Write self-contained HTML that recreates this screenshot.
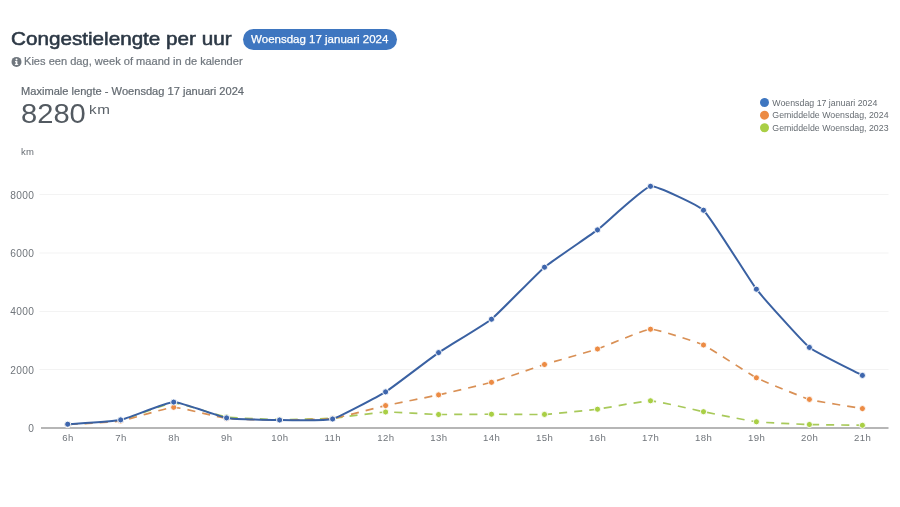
<!DOCTYPE html>
<html lang="nl"><head><meta charset="utf-8"><title>Congestielengte per uur</title>
<style>
html,body{margin:0;padding:0;background:#fff;}
body{width:900px;height:507px;position:relative;overflow:hidden;font-family:"Liberation Sans",sans-serif;}
.t{position:absolute;white-space:nowrap;line-height:1;}
#title{left:11px;top:30.1px;font-size:18.5px;font-weight:normal;color:#2c3845;-webkit-text-stroke:0.55px #2c3845;transform-origin:0 0;transform:scaleX(1.117);}
#pill{left:243px;top:29.2px;width:153.5px;height:20.8px;border-radius:10.5px;background:#3e76c0;color:#fff;font-size:11.5px;text-align:center;line-height:20.6px;-webkit-text-stroke:0.25px #fff;}
#sub{left:24.4px;top:56px;font-size:10.5px;color:#70777e;-webkit-text-stroke:0.2px #70777e;transform-origin:0 0;transform:translateY(0.3px) scaleX(1.055);}
#max{left:21px;top:86px;font-size:10.6px;color:#636a71;-webkit-text-stroke:0.2px #636a71;transform-origin:0 0;transform:translateY(0.4px) scaleX(1.047);}
#big{left:21.1px;top:100px;font-size:28px;color:#535a61;transform-origin:0 0;transform:scaleX(1.04);}
#kmsup{left:89.2px;top:103px;font-size:13px;color:#5a6168;letter-spacing:0.5px;transform-origin:0 0;transform:scaleX(1.17);}
#km{left:21px;top:147px;font-size:9.5px;color:#666c72;letter-spacing:0.3px;}
</style></head><body>
<svg width="900" height="507" viewBox="0 0 900 507" style="position:absolute;left:0;top:0"><line x1="39.5" x2="888.5" y1="194.5" y2="194.5" stroke="#f3f3f3" stroke-width="1"/><line x1="39.5" x2="888.5" y1="253" y2="253" stroke="#f3f3f3" stroke-width="1"/><line x1="39.5" x2="888.5" y1="311.5" y2="311.5" stroke="#f3f3f3" stroke-width="1"/><line x1="39.5" x2="888.5" y1="369.5" y2="369.5" stroke="#f3f3f3" stroke-width="1"/><line x1="41" x2="888.5" y1="428" y2="428" stroke="#9e9e9e" stroke-width="1.3"/><path d="M67.7,424.4 C74.1,423.9 114.5,421.6 120.7,420.3 C127.2,419.0 167.2,403.1 173.7,402.9 C180.0,402.7 220.2,416.0 226.6,417.0 C232.9,418.0 273.3,419.5 279.6,419.6 C286.0,419.7 326.3,418.7 332.6,418.2 C339.0,417.7 379.2,412.2 385.6,412.0 C391.9,411.8 432.2,414.4 438.6,414.5 C444.9,414.6 485.2,414.2 491.5,414.2 C497.9,414.2 538.2,414.7 544.5,414.4 C550.9,414.1 591.2,410.0 597.5,409.2 C603.9,408.4 644.1,400.7 650.5,400.8 C656.9,401.0 697.1,410.4 703.5,411.7 C709.8,413.0 750.0,421.0 756.4,421.8 C762.7,422.6 803.1,424.3 809.4,424.5 C815.8,424.7 856.0,425.2 862.4,425.3" fill="none" stroke="#a8c95a" stroke-width="1.7" stroke-dasharray="8 7" stroke-dashoffset="-2"/><circle cx="67.7" cy="424.4" r="3.0500000000000003" fill="#a9cf45" stroke="#fff" stroke-width="0.9"/><circle cx="120.7" cy="420.3" r="3.0500000000000003" fill="#a9cf45" stroke="#fff" stroke-width="0.9"/><circle cx="173.7" cy="402.9" r="3.0500000000000003" fill="#a9cf45" stroke="#fff" stroke-width="0.9"/><circle cx="226.6" cy="417.0" r="3.0500000000000003" fill="#a9cf45" stroke="#fff" stroke-width="0.9"/><circle cx="279.6" cy="419.6" r="3.0500000000000003" fill="#a9cf45" stroke="#fff" stroke-width="0.9"/><circle cx="332.6" cy="418.2" r="3.0500000000000003" fill="#a9cf45" stroke="#fff" stroke-width="0.9"/><circle cx="385.6" cy="412.0" r="3.0500000000000003" fill="#a9cf45" stroke="#fff" stroke-width="0.9"/><circle cx="438.6" cy="414.5" r="3.0500000000000003" fill="#a9cf45" stroke="#fff" stroke-width="0.9"/><circle cx="491.5" cy="414.2" r="3.0500000000000003" fill="#a9cf45" stroke="#fff" stroke-width="0.9"/><circle cx="544.5" cy="414.4" r="3.0500000000000003" fill="#a9cf45" stroke="#fff" stroke-width="0.9"/><circle cx="597.5" cy="409.2" r="3.0500000000000003" fill="#a9cf45" stroke="#fff" stroke-width="0.9"/><circle cx="650.5" cy="400.8" r="3.0500000000000003" fill="#a9cf45" stroke="#fff" stroke-width="0.9"/><circle cx="703.5" cy="411.7" r="3.0500000000000003" fill="#a9cf45" stroke="#fff" stroke-width="0.9"/><circle cx="756.4" cy="421.8" r="3.0500000000000003" fill="#a9cf45" stroke="#fff" stroke-width="0.9"/><circle cx="809.4" cy="424.5" r="3.0500000000000003" fill="#a9cf45" stroke="#fff" stroke-width="0.9"/><circle cx="862.4" cy="425.3" r="3.0500000000000003" fill="#a9cf45" stroke="#fff" stroke-width="0.9"/><path d="M67.7,424.6 C74.1,424.2 114.4,422.0 120.7,421.0 C127.1,419.9 167.3,407.5 173.7,407.3 C180.0,407.2 220.2,417.7 226.6,418.5 C232.9,419.3 273.3,420.0 279.6,420.0 C286.0,420.0 326.3,419.5 332.6,418.6 C339.0,417.7 379.2,407.0 385.6,405.6 C391.9,404.2 432.2,396.3 438.6,394.9 C444.9,393.5 485.3,384.1 491.5,382.3 C498.0,380.5 538.1,366.5 544.5,364.5 C550.8,362.5 591.2,351.1 597.5,349.0 C603.9,346.9 644.1,329.4 650.5,329.2 C656.8,329.0 697.5,342.3 703.5,345.0 C710.2,348.1 749.8,374.4 756.4,377.8 C762.5,380.9 802.9,397.5 809.4,399.4 C815.6,401.2 856.0,407.5 862.4,408.6" fill="none" stroke="#d99055" stroke-width="1.7" stroke-dasharray="8 7" stroke-dashoffset="-2"/><circle cx="67.7" cy="424.6" r="3.0500000000000003" fill="#ec8b44" stroke="#fff" stroke-width="0.9"/><circle cx="120.7" cy="421.0" r="3.0500000000000003" fill="#ec8b44" stroke="#fff" stroke-width="0.9"/><circle cx="173.7" cy="407.3" r="3.0500000000000003" fill="#ec8b44" stroke="#fff" stroke-width="0.9"/><circle cx="226.6" cy="418.5" r="3.0500000000000003" fill="#ec8b44" stroke="#fff" stroke-width="0.9"/><circle cx="279.6" cy="420.0" r="3.0500000000000003" fill="#ec8b44" stroke="#fff" stroke-width="0.9"/><circle cx="332.6" cy="418.6" r="3.0500000000000003" fill="#ec8b44" stroke="#fff" stroke-width="0.9"/><circle cx="385.6" cy="405.6" r="3.0500000000000003" fill="#ec8b44" stroke="#fff" stroke-width="0.9"/><circle cx="438.6" cy="394.9" r="3.0500000000000003" fill="#ec8b44" stroke="#fff" stroke-width="0.9"/><circle cx="491.5" cy="382.3" r="3.0500000000000003" fill="#ec8b44" stroke="#fff" stroke-width="0.9"/><circle cx="544.5" cy="364.5" r="3.0500000000000003" fill="#ec8b44" stroke="#fff" stroke-width="0.9"/><circle cx="597.5" cy="349.0" r="3.0500000000000003" fill="#ec8b44" stroke="#fff" stroke-width="0.9"/><circle cx="650.5" cy="329.2" r="3.0500000000000003" fill="#ec8b44" stroke="#fff" stroke-width="0.9"/><circle cx="703.5" cy="345.0" r="3.0500000000000003" fill="#ec8b44" stroke="#fff" stroke-width="0.9"/><circle cx="756.4" cy="377.8" r="3.0500000000000003" fill="#ec8b44" stroke="#fff" stroke-width="0.9"/><circle cx="809.4" cy="399.4" r="3.0500000000000003" fill="#ec8b44" stroke="#fff" stroke-width="0.9"/><circle cx="862.4" cy="408.6" r="3.0500000000000003" fill="#ec8b44" stroke="#fff" stroke-width="0.9"/><path d="M67.7,424.2 C74.1,423.7 114.5,421.2 120.7,419.9 C127.2,418.5 167.3,402.2 173.7,402.1 C180.0,402.0 220.1,416.8 226.6,417.9 C232.9,419.0 273.3,419.9 279.6,420.0 C286.0,420.1 326.6,420.6 332.6,419.0 C339.3,417.2 379.5,395.7 385.6,391.9 C392.3,387.7 432.0,357.1 438.6,352.6 C444.8,348.4 485.7,323.9 491.5,319.2 C498.4,313.6 537.7,272.9 544.5,267.2 C550.4,262.2 591.3,234.6 597.5,229.9 C604.0,224.9 643.6,187.6 650.5,186.3 C656.3,185.2 698.6,205.5 703.5,210.2 C711.4,217.9 749.5,280.2 756.4,289.2 C762.2,296.7 802.2,341.5 809.4,347.4 C814.9,351.9 856.0,372.0 862.4,375.4" fill="none" stroke="#3a61a2" stroke-width="2" stroke-linejoin="round"/><circle cx="67.7" cy="424.2" r="3.0500000000000003" fill="#3e66ad" stroke="#fff" stroke-width="0.9"/><circle cx="120.7" cy="419.9" r="3.0500000000000003" fill="#3e66ad" stroke="#fff" stroke-width="0.9"/><circle cx="173.7" cy="402.1" r="3.0500000000000003" fill="#3e66ad" stroke="#fff" stroke-width="0.9"/><circle cx="226.6" cy="417.9" r="3.0500000000000003" fill="#3e66ad" stroke="#fff" stroke-width="0.9"/><circle cx="279.6" cy="420.0" r="3.0500000000000003" fill="#3e66ad" stroke="#fff" stroke-width="0.9"/><circle cx="332.6" cy="419.0" r="3.0500000000000003" fill="#3e66ad" stroke="#fff" stroke-width="0.9"/><circle cx="385.6" cy="391.9" r="3.0500000000000003" fill="#3e66ad" stroke="#fff" stroke-width="0.9"/><circle cx="438.6" cy="352.6" r="3.0500000000000003" fill="#3e66ad" stroke="#fff" stroke-width="0.9"/><circle cx="491.5" cy="319.2" r="3.0500000000000003" fill="#3e66ad" stroke="#fff" stroke-width="0.9"/><circle cx="544.5" cy="267.2" r="3.0500000000000003" fill="#3e66ad" stroke="#fff" stroke-width="0.9"/><circle cx="597.5" cy="229.9" r="3.0500000000000003" fill="#3e66ad" stroke="#fff" stroke-width="0.9"/><circle cx="650.5" cy="186.3" r="3.0500000000000003" fill="#3e66ad" stroke="#fff" stroke-width="0.9"/><circle cx="703.5" cy="210.2" r="3.0500000000000003" fill="#3e66ad" stroke="#fff" stroke-width="0.9"/><circle cx="756.4" cy="289.2" r="3.0500000000000003" fill="#3e66ad" stroke="#fff" stroke-width="0.9"/><circle cx="809.4" cy="347.4" r="3.0500000000000003" fill="#3e66ad" stroke="#fff" stroke-width="0.9"/><circle cx="862.4" cy="375.4" r="3.0500000000000003" fill="#3e66ad" stroke="#fff" stroke-width="0.9"/><g font-family="Liberation Sans, sans-serif" font-size="10.2" fill="#70757b" letter-spacing="0.35"><text x="34.3" y="432.0" text-anchor="end">0</text><text x="34.3" y="373.5" text-anchor="end">2000</text><text x="34.3" y="315.3" text-anchor="end">4000</text><text x="34.3" y="256.9" text-anchor="end">6000</text><text x="34.3" y="198.6" text-anchor="end">8000</text></g><g font-family="Liberation Sans, sans-serif" font-size="9.6" fill="#70757b" letter-spacing="0.4"><text x="67.9" y="441.1" text-anchor="middle">6h</text><text x="120.9" y="441.1" text-anchor="middle">7h</text><text x="173.9" y="441.1" text-anchor="middle">8h</text><text x="226.8" y="441.1" text-anchor="middle">9h</text><text x="279.8" y="441.1" text-anchor="middle">10h</text><text x="332.8" y="441.1" text-anchor="middle">11h</text><text x="385.8" y="441.1" text-anchor="middle">12h</text><text x="438.8" y="441.1" text-anchor="middle">13h</text><text x="491.7" y="441.1" text-anchor="middle">14h</text><text x="544.7" y="441.1" text-anchor="middle">15h</text><text x="597.7" y="441.1" text-anchor="middle">16h</text><text x="650.7" y="441.1" text-anchor="middle">17h</text><text x="703.7" y="441.1" text-anchor="middle">18h</text><text x="756.6" y="441.1" text-anchor="middle">19h</text><text x="809.6" y="441.1" text-anchor="middle">20h</text><text x="862.6" y="441.1" text-anchor="middle">21h</text></g><g font-family="Liberation Sans, sans-serif" font-size="8.8" fill="#666c72"><circle cx="764.5" cy="102.50" r="4.5" fill="#3e76c0"/><text x="772.3" y="105.50">Woensdag 17 januari 2024</text><circle cx="764.5" cy="115.15" r="4.5" fill="#ec8b44"/><text x="772.3" y="118.15">Gemiddelde Woensdag, 2024</text><circle cx="764.5" cy="127.80" r="4.5" fill="#a9cf45"/><text x="772.3" y="130.80">Gemiddelde Woensdag, 2023</text></g><circle cx="16.5" cy="61.9" r="5" fill="#70777e"/><g fill="#fff" transform="translate(0.4,0.6)"><circle cx="16.1" cy="58.9" r="0.95"/><rect x="15.2" y="60.5" width="1.8" height="3.6"/><rect x="14.6" y="60.5" width="1.4" height="0.9"/><rect x="14.5" y="63.4" width="3.3" height="0.9"/></g></svg>
<div class="t" id="title">Congestielengte per uur</div>
<div class="t" id="pill">Woensdag 17 januari 2024</div>
<div class="t" id="sub">Kies een dag, week of maand in de kalender</div>
<div class="t" id="max">Maximale lengte - Woensdag 17 januari 2024</div>
<div class="t" id="big">8280</div>
<div class="t" id="kmsup">km</div>
<div class="t" id="km">km</div>
</body></html>
